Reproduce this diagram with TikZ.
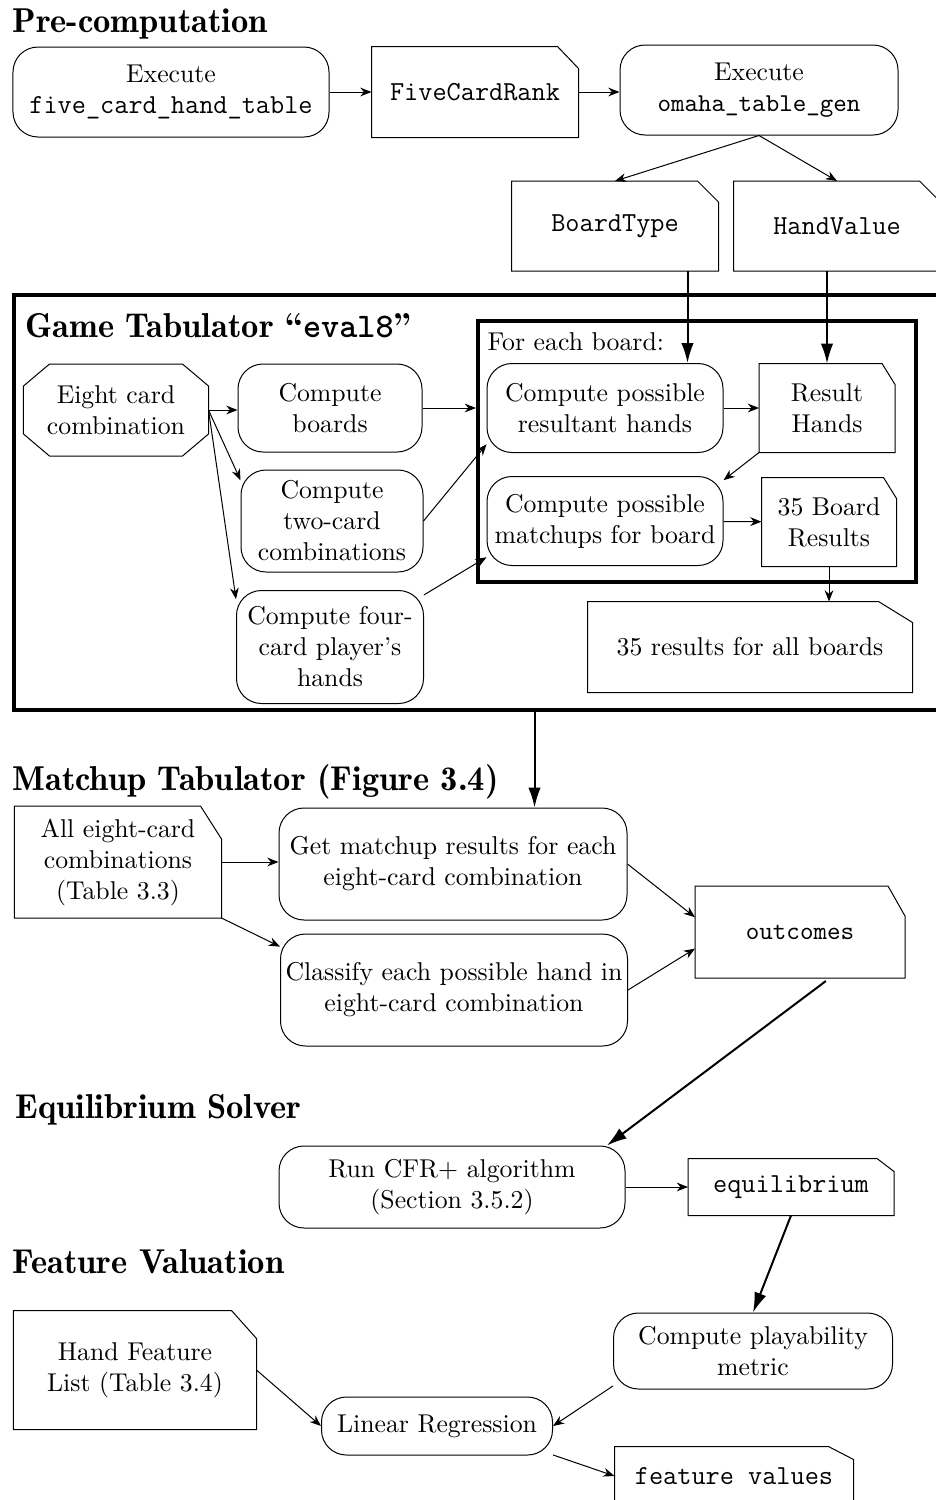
\documentclass[tikz,border=0pt]{standalone}
\usetikzlibrary{fit,arrows.meta}

\newcommand{\code}[1]{{\fontsize{11}{13}\selectfont\ttfamily #1}}

\tikzset{
    every node/.style={font=\fontsize{10.3}{12.4}\selectfont},
    proc/.style={draw, rounded corners=10pt, align=center, inner sep=1pt},
    % file: box with the top right corner cut off (#1 across, #2 down)
    file/.style 2 args={align=center, inner sep=1pt, append after command={
        (\tikzlastnode.south west) edge[to path={-- (\tikztotarget.north west)
            -- ([xshift=-#1]\tikztotarget.north east) -- ([yshift=-#2]\tikztotarget.north east)
            -- (\tikztotarget.south east) -- cycle}] (\tikzlastnode)}},
    % octbox: box with all four corners cut off
    octbox/.style 2 args={align=center, inner sep=1pt, append after command={
        ([yshift=-#2]\tikzlastnode.north west) edge[to path={-- ([xshift=#1]\tikztotarget.north west)
            -- ([xshift=-#1]\tikztotarget.north east) -- ([yshift=-#2]\tikztotarget.north east)
            -- ([yshift=#2]\tikztotarget.south east) -- ([xshift=-#1]\tikztotarget.south east)
            -- ([xshift=#1]\tikztotarget.south west) -- ([yshift=#2]\tikztotarget.south west) -- cycle}] (\tikzlastnode)}},
    frame/.style={draw, line width=1.6pt, inner sep=0pt},
    heading/.style={anchor=base west, inner sep=0pt, font=\fontsize{13.8}{16}\fontseries{b}\selectfont},
    flow/.style={->, >={Stealth[length=4.5pt, width=3.5pt]}},
    bigflow/.style={->, >={Latex[length=8pt, width=5pt]}, line width=0.8pt},
}

\begin{document}
\begin{tikzpicture}[x=0.4pt, y=-0.4pt]
    \useasboundingbox (0,0) rectangle (935,1500);

    % Pre-computation
    \node[heading] (hpre) at (12,32) {Pre-computation};
    \node[proc, minimum width=126.4pt, minimum height=36pt] (exec1) at (171,92) {Execute\\\code{five\_card\_hand\_table}};
    \node[file={8.4pt}{8.8pt}, minimum width=82.4pt, minimum height=36pt] (fcr) at (475,92) {\code{FiveCardRank}};
    \node[proc, minimum width=111.2pt, minimum height=36pt] (exec2) at (759,90) {Execute\\\texttt{omaha\_table\_gen}};
    \node[file={8.4pt}{8.4pt}, minimum width=82.4pt, minimum height=35.6pt] (board) at (615,226) {\code{BoardType}};
    \node[file={8.4pt}{8.4pt}, minimum width=82.4pt, minimum height=35.6pt] (handval) at (837,226) {\code{HandValue}};

    \draw[flow] (exec1) -- (fcr);
    \draw[flow] (fcr.east) -- (fcr.east -| exec2.west);
    \draw[flow] (exec2.south) -- (board.north);
    \draw[flow] (exec2.south) -- (handval.north);

    % Game Tabulator
    \node[frame, fit={(14,295) (945,710)}] (gtab) {};
    \node[frame, fit={(478,321) (916,582)}] (loop) {};
    \node[heading] (hgame) at (25,337) {Game Tabulator “\texttt{eval8}”};
    \node[anchor=base west, inner sep=0pt] (lbl) at (487,350) {For each board:};

    \node[octbox={10.4pt}{8.8pt}, minimum width=73.6pt, minimum height=36.4pt] (eight) at (116,410) {Eight card\\combination};
    \node[proc, minimum width=73.6pt, minimum height=35.2pt] (boards) at (330,408) {Compute\\boards};
    \node[proc, minimum width=72.8pt, minimum height=40.8pt] (twocard) at (332,521) {Compute\\two-card\\combinations};
    \node[proc, minimum width=74.8pt, minimum height=45.2pt] (fourcard) at (330,647) {Compute four-\\card player’s\\hands};
    \node[proc, minimum width=94.4pt, minimum height=35.6pt] (resultant) at (605,408) {Compute possible\\resultant hands};
    \node[file={5.2pt}{8.4pt}, minimum width=54pt, minimum height=35.2pt] (rhands) at (827,408) {Result\\Hands};
    \node[proc, minimum width=94.4pt, minimum height=35.6pt] (matchups) at (605,521) {Compute possible\\matchups for board};
    \node[file={5.2pt}{8.4pt}, minimum width=53.6pt, minimum height=35.2pt] (bres) at (829,522) {35 Board\\Results};
    \node[file={13.6pt}{8.4pt}, minimum width=129.6pt, minimum height=36pt] (allres) at (750,647) {35 results for all boards};

    \draw[bigflow] ([xshift=-12.4pt]board.south east) -- ([xshift=-12.4pt]board.south east |- resultant.north);
    \draw[bigflow] (rhands.north |- handval.south) -- (rhands.north);
    \draw[flow] (eight.east) -- (eight.east -| boards.west);
    \draw[flow] (eight.east) -- (twocard.156);
    \draw[flow] (eight.east) -- (fourcard.153);
    \draw[flow] (boards.east) -- (boards.east -| loop.west);
    \draw[flow] (twocard.east) -- (resultant.197);
    \draw[flow] (fourcard.29) -- (matchups.197);
    \draw[flow] (resultant) -- (rhands);
    \draw[flow] (rhands.south west) -- (matchups.19);
    \draw[flow] (matchups) -- (bres);
    \draw[flow] (bres.south) -- (bres.south |- allres.north);

    % Matchup Tabulator
    \node[heading] (hmatch) at (12,790) {Matchup Tabulator (Figure 3.4)};
    \node[file={8.4pt}{13.2pt}, minimum width=82.4pt, minimum height=44.4pt] (allc) at (118,862) {All eight-card\\combinations\\(Table 3.3)};
    \node[proc, minimum width=139.2pt, minimum height=44.8pt] (getm) at (453,864) {Get matchup results for each\\eight-card combination};
    \node[proc, minimum width=138.8pt, minimum height=44.8pt] (classify) at (454,990) {Classify each possible hand in\\eight-card combination};
    \node[file={6.8pt}{12pt}, minimum width=83.6pt, minimum height=36.4pt] (outcomes) at (800,932) {\texttt{outcomes}};

    \draw[bigflow] ([xshift=22pt]gtab.south) -- ([xshift=22pt]gtab.south |- getm.north);
    \draw[flow] (allc.east) -- (allc.east -| getm.west);
    \draw[flow] (allc.south east) -- (classify.166);
    \draw[flow] (getm.east) -- (outcomes.172);
    \draw[flow] (classify.east) -- (outcomes.189);

    % Equilibrium Solver
    \node[heading] (hequil) at (15,1118) {Equilibrium Solver};
    \node[proc, minimum width=138.4pt, minimum height=32.8pt] (cfr) at (452,1187) {Run CFR+ algorithm\\(Section 3.5.2)};
    \node[file={6.8pt}{5.2pt}, minimum width=82pt, minimum height=22.4pt] (equil) at (791,1187) {\code{equilibrium}};

    \draw[bigflow, shorten <=2pt] (outcomes.-57) -- (cfr.15);
    \draw[flow] (cfr) -- (equil);

    % Feature Valuation
    \node[heading] (hfeat) at (12,1273) {Feature Valuation};
    \node[file={10pt}{11.2pt}, minimum width=96.8pt, minimum height=47.2pt] (hfl) at (135,1370) {Hand Feature\\List (Table 3.4)};
    \node[proc, minimum width=111.6pt, minimum height=30.4pt] (play) at (753,1351) {Compute playability\\metric};
    \node[proc, minimum width=92.4pt, minimum height=23.2pt] (linreg) at (437,1426) {Linear Regression};
    \node[file={10pt}{5.2pt}, minimum width=95.2pt, minimum height=23.2pt] (feat) at (734,1476) {\code{feature values}};

    \draw[bigflow] (equil.south) -- (play.north);
    \draw[flow] (hfl.east) -- (linreg.west);
    \draw[flow] (play.194) -- (linreg.east);
    \draw[flow] (linreg.-14) -- (feat.west);
\end{tikzpicture}
\end{document}
